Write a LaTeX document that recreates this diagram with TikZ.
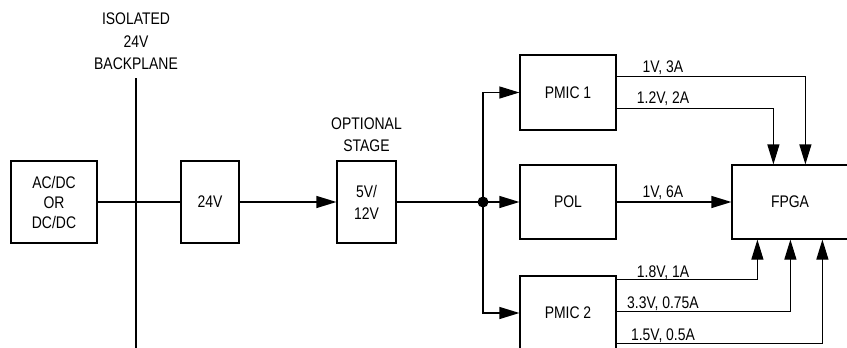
\documentclass[tikz,border=0pt]{standalone}
\usepackage{fontspec}
\setmainfont{Liberation Sans}[FakeStretch=0.83]
\usetikzlibrary{arrows.meta,calc}
\tikzset{
 blk/.style={draw, line width=1.2pt, inner sep=0pt, align=center, font=\fontsize{16.8}{20}\selectfont},
 wire/.style={line width=1.2pt},
 arr/.style={wire, -{Triangle[length=20pt,width=12pt]}},
 lbl/.style={anchor=base, inner sep=0pt, font=\fontsize{16.8}{21}\selectfont},
 ttl/.style={inner sep=0pt, align=center, font=\fontsize{16.8}{22.5}\selectfont},
}
\begin{document}
\begin{tikzpicture}[x=1pt,y=-1pt]
\useasboundingbox (0,0) rectangle (847,348);
% boxes
\node[blk, minimum width=86pt, minimum height=82pt] (acdc) at (54,202) {AC/DC\\OR\\DC/DC};
\node[blk, minimum width=58pt, minimum height=82pt] (v24) at (210,202) {24V};
\node[blk, minimum width=59pt, minimum height=82pt, font=\fontsize{16.8}{22}\selectfont] (opt) at (366.5,202) {5V/\\12V};
\node[blk, minimum width=96pt, minimum height=75pt] (pmic1) at (568,92.5) {PMIC 1};
\node[blk, minimum width=96pt, minimum height=74pt] (pol) at (568,202) {POL};
\node[blk, minimum width=96pt, minimum height=74pt] (pmic2) at (568,313) {PMIC 2};
\node[blk, minimum width=116pt, minimum height=74pt] (fpga) at (790,202) {FPGA};
% titles
\node[ttl] (bptext) at (136,41.5) {ISOLATED\\24V\\BACKPLANE};
\node[ttl, font=\fontsize{16.8}{22}\selectfont] (opttext) at (366.5,135) {OPTIONAL\\STAGE};
% backplane
\coordinate (bptop) at (136,78);
\coordinate (bpbot) at (136,352);
\draw[wire] (bptop) -- (bpbot);
% main chain
\draw[wire] (acdc.east) -- (v24.west);
\draw[arr] (v24.east) -- (opt.west);
\node[circle, fill, inner sep=0pt, minimum size=11pt] (jn) at (483,202) {};
\draw[wire] (opt.east) -- (jn.center);
\draw[arr] (jn.center) |- (pmic1.west);
\draw[arr] (jn.center) -- (pol.west);
\draw[arr] (jn.center) |- (pmic2.west);
% outputs
\coordinate (p1a) at ($(pmic1.north east)+(0,22)$);
\coordinate (p1b) at ($(pmic1.north east)+(0,54)$);
\coordinate (ft1) at ($(fpga.north west)+(74,0)$);
\coordinate (ft2) at ($(fpga.north west)+(42,0)$);
\draw[arr] (p1a) -| (ft1);
\draw[arr] (p1b) -| (ft2);
\draw[arr] (pol.east) -- (fpga.west);
\coordinate (p2a) at ($(pmic2.north east)+(0,4)$);
\coordinate (p2b) at ($(pmic2.north east)+(0,36)$);
\coordinate (p2c) at ($(pmic2.north east)+(0,68)$);
\coordinate (fb1) at ($(fpga.south west)+(26,0)$);
\coordinate (fb2) at ($(fpga.south west)+(59,0)$);
\coordinate (fb3) at ($(fpga.south west)+(91,0)$);
\draw[arr] (p2a) -| (fb1);
\draw[arr] (p2b) -| (fb2);
\draw[arr] (p2c) -| (fb3);
% labels
\node[lbl] (l1) at (663,72) {1V, 3A};
\node[lbl] (l2) at (663,103) {1.2V, 2A};
\node[lbl] (l3) at (663,197) {1V, 6A};
\node[lbl] (l4) at (663,277) {1.8V, 1A};
\node[lbl] (l5) at (663,308) {3.3V, 0.75A};
\node[lbl] (l6) at (663,340.5) {1.5V, 0.5A};
\end{tikzpicture}
\end{document}
